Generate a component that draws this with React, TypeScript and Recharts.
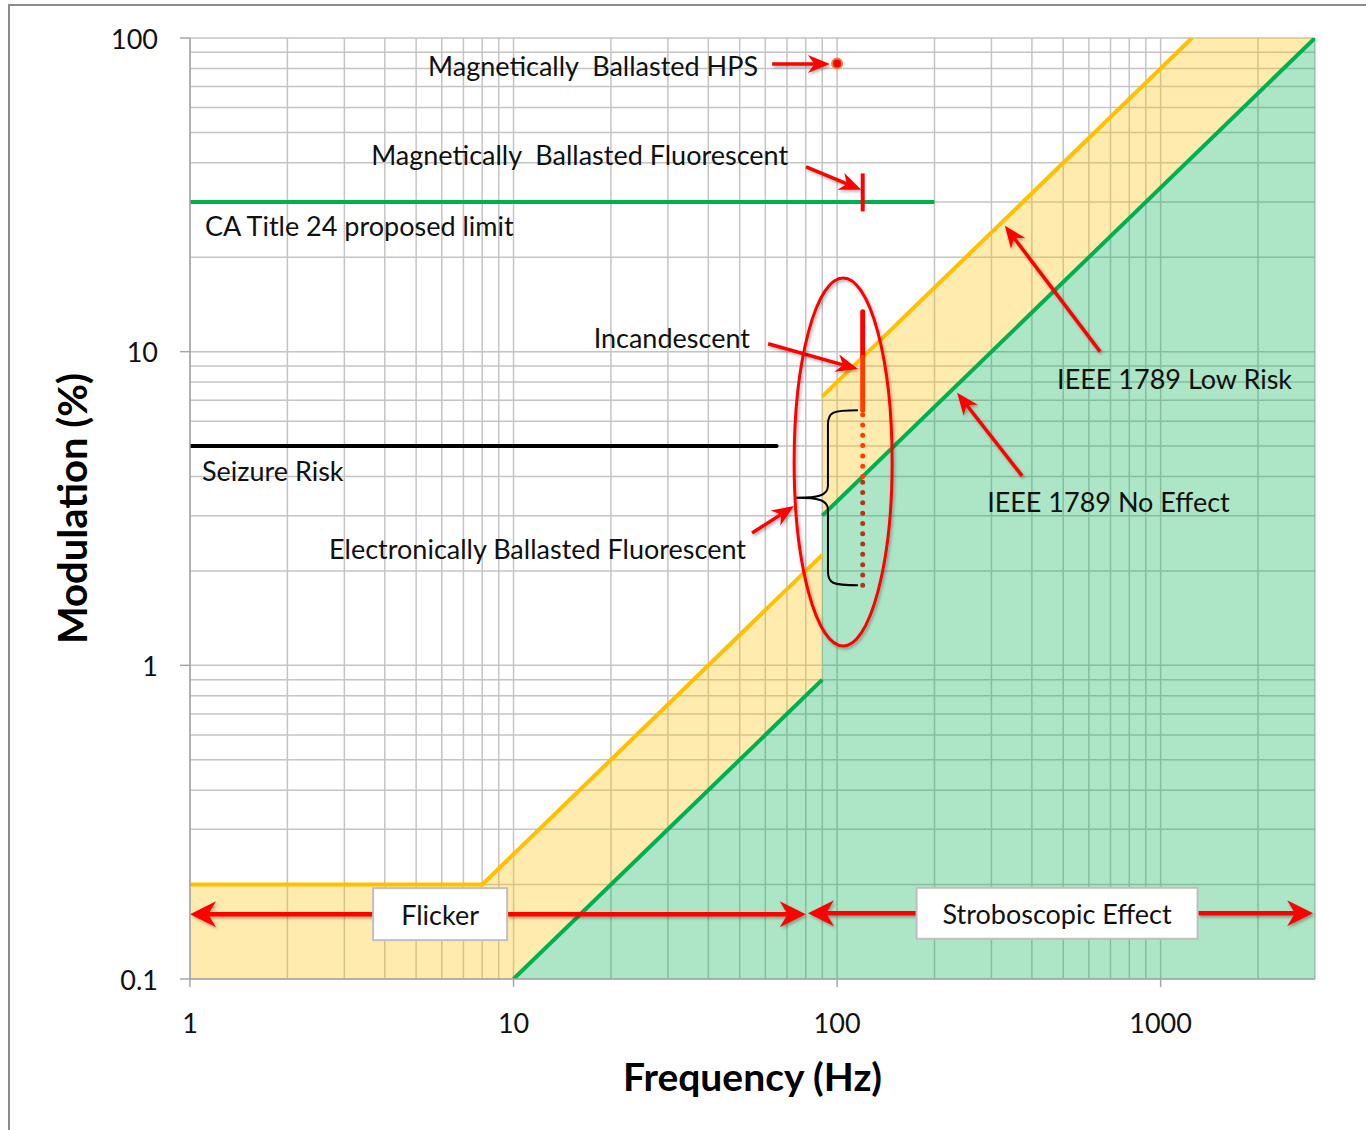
import {
  Area,
  CartesianGrid,
  ComposedChart,
  Line,
  ReferenceDot,
  ReferenceLine,
  XAxis,
  YAxis,
} from "recharts";

// IEEE 1789 limits, split at 90 Hz where the recommendation steps
const LOW_RISK_LOW_HZ = [1, 8, 90];
const LOW_RISK_LOW_PCT = [0.2, 0.2, 2.25];
const LOW_RISK_HIGH_HZ = [90, 1250];
const LOW_RISK_HIGH_PCT = [7.2, 100];
const NO_EFFECT_LOW_HZ = [10, 90];
const NO_EFFECT_LOW_PCT = [0.1, 0.9];
const NO_EFFECT_HIGH_HZ = [90, 3000];
const NO_EFFECT_HIGH_PCT = [3, 100];

// yellow band between the no-effect and low-risk limits
const BAND_HZ = [1, 8, 10, 90, 90, 1250, 3000];
const BAND_LOW = [0.1, 0.1, 0.1, 0.9, 3, 41.7, 100];
const BAND_HIGH = [0.2, 0.2, 0.25, 2.25, 7.2, 100, 100];

const CA_TITLE24_HZ = [1, 200];
const CA_TITLE24_PCT = [30, 30];
const SEIZURE_HZ = [1, 65];
const SEIZURE_PCT = [5, 5];

// measured sources (flicker at twice the 60 Hz mains)
const SOURCE_HZ = 120;
const MAG_FLUORESCENT = [28, 37];
const INCANDESCENT = [6.5, 9.6, 13.4];
const ELECTRONIC_FLUORESCENT = [1.8, 4, 6.5];
const HPS_HZ = 100;
const HPS_PCT = 83;

const X_TICKS = [1, 10, 100, 1000];
const Y_TICKS = [0.1, 1, 10, 100];
const GRID_HZ = [
  1, 2, 3, 4, 5, 6, 7, 8, 9, 10, 20, 30, 40, 50, 60, 70, 80, 90, 100, 200, 300,
  400, 500, 600, 700, 800, 900, 1000, 2000, 3000,
];
const GRID_PCT = [
  0.1, 0.2, 0.3, 0.4, 0.5, 0.6, 0.7, 0.8, 0.9, 1, 2, 3, 4, 5, 6, 7, 8, 9, 10, 20,
  30, 40, 50, 60, 70, 80, 90, 100,
];

type Pt = [number, number];

// annotation arrows, tail -> head, in (Hz, %)
const ARROWS: { from: Pt; to: Pt }[] = [
  { from: [63, 82.6], to: [95, 82.6] },
  { from: [80.2, 38.8], to: [118.7, 32.8] },
  { from: [61.2, 10.6], to: [116, 8.8] },
  { from: [54.6, 2.64], to: [73.6, 3.22] },
  { from: [650, 10], to: [330, 25.2] },
  { from: [373, 4.02], to: [235, 7.39] },
];

// range arrows running out from the Flicker / Stroboscopic boxes
const RANGE_ARROWS: { from: Pt; to: Pt }[] = [
  { from: [3.68, 0.161], to: [1, 0.161] },
  { from: [9.55, 0.161], to: [80, 0.161] },
  { from: [176.7, 0.162], to: [81.3, 0.162] },
  { from: [1306, 0.162], to: [2960, 0.162] },
];

const NOTES: { text: string; at: Pt; anchor: "start" | "end" }[] = [
  { text: "Magnetically  Ballasted HPS", at: [57, 82], anchor: "end" },
  { text: "Magnetically  Ballasted Fluorescent", at: [70.6, 42.4], anchor: "end" },
  { text: "CA Title 24 proposed limit", at: [1.113, 25.3], anchor: "start" },
  { text: "Incandescent", at: [53.8, 11.06], anchor: "end" },
  { text: "IEEE 1789 Low Risk", at: [478.6, 8.19], anchor: "start" },
  { text: "Seizure Risk", at: [1.089, 4.17], anchor: "start" },
  { text: "IEEE 1789 No Effect", at: [290.9, 3.32], anchor: "start" },
  { text: "Electronically Ballasted Fluorescent", at: [52.3, 2.35], anchor: "end" },
];

const BOXES: { text: string; at: Pt; w: number; h: number }[] = [
  { text: "Flicker", at: [5.93, 0.161], w: 134, h: 52 },
  { text: "Stroboscopic Effect", at: [478.6, 0.162], w: 281, h: 51 },
];

const FONT = "Lato, 'Open Sans', sans-serif";
const RED = "#FF0000";
const YELLOW = "#FFC000";
const GREEN = "#00B050";

const pts = (hz: number[], pct: number[]) =>
  hz.map((f, i) => ({ hz: f, pct: pct[i] }));

const bandData = BAND_HZ.map((f, i) => ({ hz: f, band: [BAND_LOW[i], BAND_HIGH[i]] }));
const noEffectHz = [...NO_EFFECT_LOW_HZ, ...NO_EFFECT_HIGH_HZ];
const noEffectPct = [...NO_EFFECT_LOW_PCT, ...NO_EFFECT_HIGH_PCT];
const noEffectArea = noEffectHz.map((f, i) => ({ hz: f, band: [0.1, noEffectPct[i]] }));

function Arrow(props: any) {
  const { x1, y1, x2, y2 } = props;
  const head = props.head ?? 22;
  const half = props.half ?? 9;
  const width = props.width ?? 3.5;
  if ([x1, y1, x2, y2].some((v) => typeof v !== "number")) return null;
  const len = Math.hypot(x2 - x1, y2 - y1) || 1;
  const ux = (x2 - x1) / len;
  const uy = (y2 - y1) / len;
  const bx = x2 - ux * head;
  const by = y2 - uy * head;
  const nx = x2 - ux * head * 0.7;
  const ny = y2 - uy * head * 0.7;
  const poly = [
    [x2, y2],
    [bx - uy * half, by + ux * half],
    [nx, ny],
    [bx + uy * half, by - ux * half],
  ]
    .map((p) => p.join(","))
    .join(" ");
  return (
    <g filter="url(#soft-shadow)">
      <line x1={x1} y1={y1} x2={nx} y2={ny} stroke={RED} strokeWidth={width} />
      <polygon points={poly} fill={RED} />
    </g>
  );
}

function Brace(props: any) {
  const { x1, y1, y2 } = props;
  if ([x1, y1, y2].some((v) => typeof v !== "number")) return null;
  const mid = (y1 + y2) / 2;
  const xs = x1 - 30;
  const tip = x1 - 62;
  const d = `M ${x1} ${y1} C ${xs + 4} ${y1} ${xs} ${y1 + 2} ${xs} ${y1 + 14}
    L ${xs} ${mid - 12} C ${xs} ${mid - 2} ${xs - 10} ${mid} ${tip} ${mid}
    C ${xs - 10} ${mid} ${xs} ${mid + 2} ${xs} ${mid + 12}
    L ${xs} ${y2 - 14} C ${xs} ${y2 - 2} ${xs + 4} ${y2} ${x1} ${y2}`;
  return <path d={d} fill="none" stroke="#000" strokeWidth={2} />;
}

function Note({ cx, cy, text, anchor }: any) {
  return (
    <text
      x={cx}
      y={cy}
      textAnchor={anchor}
      dominantBaseline="central"
      fontFamily={FONT}
      fontSize={27}
      fill="#111"
      style={{ whiteSpace: "pre" }}
    >
      {text}
    </text>
  );
}

function Box({ cx, cy, text, w, h }: any) {
  return (
    <g>
      <rect
        x={cx - w / 2}
        y={cy - h / 2}
        width={w}
        height={h}
        fill="#fff"
        stroke="#bfbfbf"
        strokeWidth={2}
      />
      <text
        x={cx}
        y={cy}
        textAnchor="middle"
        dominantBaseline="central"
        fontFamily={FONT}
        fontSize={27}
        fill="#111"
      >
        {text}
      </text>
    </g>
  );
}

const fmt = (v: number) => String(v);

function XTick({ x, y, payload }: any) {
  return (
    <text x={x} y={y + 33} textAnchor="middle" dominantBaseline="central"
      fontFamily={FONT} fontSize={27} fill="#111">
      {fmt(payload.value)}
    </text>
  );
}

function YTick({ x, y, payload }: any) {
  return (
    <text x={x} y={y} textAnchor="end" dominantBaseline="central"
      fontFamily={FONT} fontSize={27} fill="#111">
      {fmt(payload.value)}
    </text>
  );
}

const yTitle = ({ viewBox }: any) => {
  const cx = viewBox.x + 72;
  const cy = viewBox.y + viewBox.height / 2;
  return (
    <text x={cx} y={cy} transform={`rotate(-90 ${cx} ${cy})`} textAnchor="middle"
      dominantBaseline="central" fontFamily={FONT} fontWeight={700} fontSize={40} fill="#000">
      Modulation (%)
    </text>
  );
};

const xTitle = ({ viewBox }: any) => (
  <text x={viewBox.x + viewBox.width / 2} y={viewBox.y + 97} textAnchor="middle"
    dominantBaseline="central" fontFamily={FONT} fontWeight={700} fontSize={39} fill="#000">
    Frequency (Hz)
  </text>
);

export default function App() {
  return (
    <div style={{ position: "relative", width: 1366, height: 1130, overflow: "hidden", background: "#fff" }}>
      <style>{`body{margin:0;overflow:hidden}`}</style>
      <div
        style={{
          position: "absolute",
          left: 8,
          top: 4,
          width: 1400,
          height: 1200,
          borderLeft: "2px solid #8c8c8c",
          borderTop: "2px solid #8c8c8c",
        }}
      />
      <div style={{ position: "absolute", left: 0, top: 0 }}>
        <ComposedChart
          width={1366}
          height={1130}
          margin={{ top: 38, right: 51, bottom: 0, left: 0 }}
        >
          <defs>
            <filter id="soft-shadow" x="-20%" y="-20%" width="140%" height="140%">
              <feDropShadow dx="1.5" dy="2" stdDeviation="1.5" floodColor="#000" floodOpacity="0.3" />
            </filter>
          </defs>
          <CartesianGrid
            stroke="#c4c4c4"
            strokeWidth={1.5}
            verticalValues={GRID_HZ}
            horizontalValues={GRID_PCT}
          />
          <XAxis
            dataKey="hz"
            type="number"
            scale="log"
            domain={[1, 3000]}
            allowDataOverflow
            ticks={X_TICKS}
            interval={0}
            height={151}
            tickSize={8}
            tick={<XTick />}
            axisLine={{ stroke: "#a6a6a6", strokeWidth: 1.5 }}
            tickLine={{ stroke: "#a6a6a6", strokeWidth: 1.5 }}
            label={xTitle}
          />
          <YAxis
            type="number"
            scale="log"
            domain={[0.1, 100]}
            allowDataOverflow
            ticks={Y_TICKS}
            interval={0}
            width={190}
            tickSize={10}
            tickMargin={22}
            tick={<YTick />}
            axisLine={{ stroke: "#a6a6a6", strokeWidth: 1.5 }}
            tickLine={{ stroke: "#a6a6a6", strokeWidth: 1.5 }}
            label={yTitle}
          />

          <Area data={bandData} dataKey="band" type="linear" stroke="none"
            fill={YELLOW} fillOpacity={0.32} isAnimationActive={false} />
          <Area data={noEffectArea} dataKey="band" type="linear" stroke="none"
            fill={GREEN} fillOpacity={0.32} isAnimationActive={false} />

          <Line data={pts(LOW_RISK_LOW_HZ, LOW_RISK_LOW_PCT)} dataKey="pct" stroke={YELLOW}
            strokeWidth={4} dot={false} activeDot={false} isAnimationActive={false} />
          <Line data={pts(LOW_RISK_HIGH_HZ, LOW_RISK_HIGH_PCT)} dataKey="pct" stroke={YELLOW}
            strokeWidth={4} dot={false} activeDot={false} isAnimationActive={false} />
          <Line data={pts(NO_EFFECT_LOW_HZ, NO_EFFECT_LOW_PCT)} dataKey="pct" stroke={GREEN}
            strokeWidth={4} dot={false} activeDot={false} isAnimationActive={false} />
          <Line data={pts(NO_EFFECT_HIGH_HZ, NO_EFFECT_HIGH_PCT)} dataKey="pct" stroke={GREEN}
            strokeWidth={4} dot={false} activeDot={false} isAnimationActive={false} />
          <Line data={pts(CA_TITLE24_HZ, CA_TITLE24_PCT)} dataKey="pct" stroke={GREEN}
            strokeWidth={4} dot={false} activeDot={false} isAnimationActive={false} />
          <Line data={pts(SEIZURE_HZ, SEIZURE_PCT)} dataKey="pct" stroke="#000"
            strokeWidth={4} strokeLinecap="round" dot={false} activeDot={false} isAnimationActive={false} />

          {/* source ranges at 120 Hz; the parts lying in the shaded bands take its tint */}
          <Line data={pts([SOURCE_HZ, SOURCE_HZ], MAG_FLUORESCENT)} dataKey="pct" stroke={RED}
            strokeWidth={4} dot={false} activeDot={false} isAnimationActive={false} />
          <Line data={pts([SOURCE_HZ, SOURCE_HZ], INCANDESCENT.slice(1))} dataKey="pct" stroke={RED}
            strokeWidth={5} strokeLinecap="round" dot={false} activeDot={false} isAnimationActive={false} />
          <Line data={pts([SOURCE_HZ, SOURCE_HZ], INCANDESCENT.slice(0, 2))} dataKey="pct" stroke="#FF3D00"
            strokeWidth={5} strokeLinecap="round" dot={false} activeDot={false} isAnimationActive={false} />
          <Line data={pts([SOURCE_HZ, SOURCE_HZ], ELECTRONIC_FLUORESCENT.slice(1))} dataKey="pct"
            stroke="#FF3D00" strokeWidth={5} strokeDasharray="0 10.3" strokeLinecap="round"
            dot={false} activeDot={false} isAnimationActive={false} />
          <Line data={pts([SOURCE_HZ, SOURCE_HZ], ELECTRONIC_FLUORESCENT.slice(0, 2))} dataKey="pct"
            stroke="#AD381A" strokeWidth={5} strokeDasharray="0 10.3" strokeLinecap="round"
            dot={false} activeDot={false} isAnimationActive={false} />

          <ReferenceDot x={HPS_HZ} y={HPS_PCT} r={5} fill={RED} stroke="#F0803C" strokeWidth={2} />

          <ReferenceLine
            segment={[{ x: 116, y: ELECTRONIC_FLUORESCENT[2] }, { x: 116, y: ELECTRONIC_FLUORESCENT[0] }]}
            shape={(p: any) => <Brace {...p} />}
          />
          <ReferenceDot
            x={104.4}
            y={4.45}
            shape={(p: any) => (
              <ellipse cx={p.cx} cy={p.cy} rx={49} ry={184} fill="none" stroke={RED}
                strokeWidth={3} filter="url(#soft-shadow)" />
            )}
          />

          {ARROWS.map((a, i) => (
            <ReferenceLine
              key={`arrow-${i}`}
              segment={[{ x: a.from[0], y: a.from[1] }, { x: a.to[0], y: a.to[1] }]}
              shape={(p: any) => <Arrow {...p} />}
            />
          ))}
          {RANGE_ARROWS.map((a, i) => (
            <ReferenceLine
              key={`range-${i}`}
              segment={[{ x: a.from[0], y: a.from[1] }, { x: a.to[0], y: a.to[1] }]}
              shape={(p: any) => <Arrow {...p} width={4.5} head={26} half={13} />}
            />
          ))}

          {NOTES.map((n) => (
            <ReferenceDot
              key={n.text}
              x={n.at[0]}
              y={n.at[1]}
              shape={(p: any) => <Note {...p} text={n.text} anchor={n.anchor} />}
            />
          ))}
          {BOXES.map((b) => (
            <ReferenceDot
              key={b.text}
              x={b.at[0]}
              y={b.at[1]}
              shape={(p: any) => <Box {...p} text={b.text} w={b.w} h={b.h} />}
            />
          ))}
        </ComposedChart>
      </div>
    </div>
  );
}
